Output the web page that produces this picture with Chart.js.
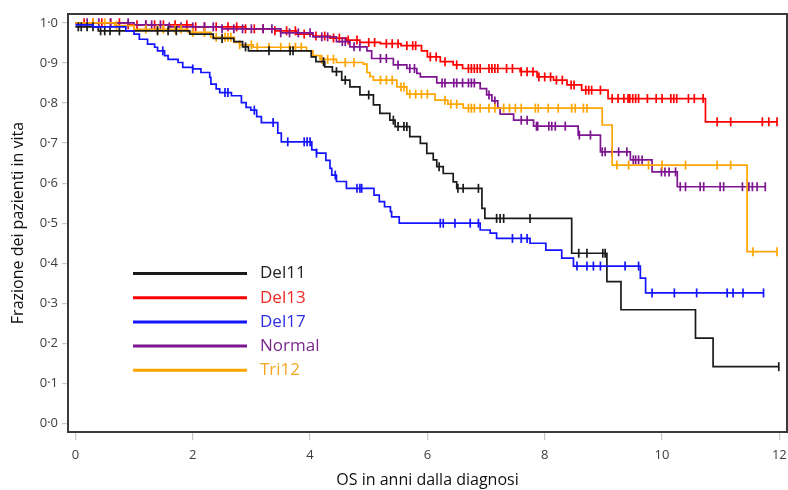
<!DOCTYPE html>
<html>
<head>
<meta charset="utf-8">
<script src="https://cdn.jsdelivr.net/npm/chart.js@4/dist/chart.umd.min.js"></script>
<style>
html,body{margin:0;padding:0;background:#fff;}
#wrap{width:788px;height:490px;position:relative;}
</style>
</head>
<body>
<div id="wrap"><canvas id="c"></canvas></div>
<script>
// ---- Data ----
const seriesNames = ["Del11", "Del13", "Del17", "Normal", "Tri12"];
const seriesColors = ["#1a1a1a", "#ff0000", "#1414ff", "#7d1490", "#ffa500"];
const legendTextColors = ["#222222", "#f02828", "#2d2de6", "#7a2a8c", "#f5a623"];

const del11Time = [0, 0.39, 1.95, 2.35, 2.7, 2.85, 2.95, 4.02, 4.1, 4.25, 4.38, 4.54, 4.68, 4.85, 5.08, 5.19, 5.36, 5.45, 5.70, 5.88, 5.99, 6.10, 6.16, 6.27, 6.44, 6.50, 6.93, 6.98, 8.46, 9.06, 9.30, 10.57, 10.87, 11.99];
const del11Surv = [0.99, 0.98, 0.972, 0.961, 0.953, 0.94, 0.93, 0.915, 0.903, 0.89, 0.878, 0.857, 0.84, 0.82, 0.795, 0.774, 0.757, 0.741, 0.716, 0.699, 0.674, 0.658, 0.641, 0.624, 0.603, 0.587, 0.537, 0.512, 0.425, 0.354, 0.284, 0.213, 0.142, 0.142];
const del11Censor = [0.05, 0.1, 0.2, 0.3, 0.43, 0.5, 0.59, 0.75, 1.4, 1.58, 1.72, 2.5, 2.9, 3.3, 3.66, 3.71, 4.23, 4.45, 4.6, 5.0, 5.42, 5.5, 5.6, 5.65, 6.2, 6.52, 6.61, 6.87, 7.18, 7.24, 7.3, 7.75, 8.58, 8.72, 8.99, 9.03, 11.99];

const del13Time = [0, 0.9, 2.0, 2.9, 3.4, 3.77, 4.05, 4.34, 4.62, 4.85, 5.2, 5.55, 5.9, 6.0, 6.22, 6.44, 6.6, 7.58, 7.87, 8.15, 8.38, 8.63, 9.08, 10.74, 11.96];
const del13Surv = [1.0, 0.995, 0.99, 0.985, 0.98, 0.972, 0.967, 0.962, 0.957, 0.951, 0.948, 0.943, 0.93, 0.915, 0.903, 0.895, 0.886, 0.878, 0.865, 0.857, 0.845, 0.832, 0.811, 0.753, 0.753];
const del13Censor = [0.15, 0.3, 0.45, 0.6, 0.75, 0.9, 1.05, 1.2, 1.35, 1.5, 1.7, 1.9, 2.05, 2.2, 2.4, 2.6, 2.75, 2.9, 3.05, 3.2, 3.4, 3.6, 3.75, 3.9, 4.1, 4.25, 4.4, 4.5, 4.65, 4.8, 5.0, 5.1, 5.3, 5.4, 5.5, 5.65, 5.75, 5.8, 6.05, 6.15, 6.3, 6.5, 6.7, 6.75, 6.8, 6.85, 6.9, 7.05, 7.1, 7.15, 7.2, 7.35, 7.45, 7.6, 7.7, 7.8, 7.9, 8.0, 8.1, 8.2, 8.3, 8.45, 8.5, 8.7, 8.75, 8.8, 8.95, 9.15, 9.25, 9.35, 9.42, 9.45, 9.5, 9.55, 9.6, 9.75, 9.9, 10.0, 10.15, 10.2, 10.25, 10.45, 10.55, 10.7, 10.94, 11.17, 11.71, 11.82, 11.96];

const del17Time = [0, 0.3, 0.86, 1.0, 1.09, 1.23, 1.35, 1.4, 1.52, 1.58, 1.75, 1.83, 2.0, 2.14, 2.29, 2.31, 2.4, 2.46, 2.66, 2.83, 2.91, 2.99, 3.09, 3.17, 3.45, 3.51, 4.03, 4.11, 4.27, 4.34, 4.37, 4.45, 4.62, 5.09, 5.18, 5.27, 5.37, 5.39, 5.52, 6.9, 7.07, 7.18, 7.75, 8.02, 8.29, 8.49, 9.63, 9.72, 11.73];
const del17Surv = [0.995, 0.99, 0.98, 0.972, 0.959, 0.947, 0.939, 0.93, 0.918, 0.909, 0.901, 0.889, 0.885, 0.876, 0.864, 0.847, 0.835, 0.826, 0.818, 0.801, 0.789, 0.782, 0.766, 0.751, 0.725, 0.703, 0.683, 0.675, 0.657, 0.637, 0.62, 0.604, 0.587, 0.570, 0.554, 0.541, 0.529, 0.516, 0.50, 0.483, 0.475, 0.462, 0.45, 0.433, 0.413, 0.393, 0.363, 0.326, 0.326];
const del17Censor = [1.49, 2.0, 2.55, 2.6, 3.05, 3.37, 3.62, 3.9, 3.95, 4.0, 4.11, 4.43, 4.8, 4.85, 4.88, 6.22, 6.27, 6.47, 6.73, 6.87, 7.45, 7.6, 7.7, 8.55, 8.72, 8.83, 8.95, 9.37, 9.6, 9.83, 10.21, 10.59, 11.11, 11.21, 11.38, 11.73];

const normalTime = [0, 1.0, 1.6, 2.5, 3.5, 4.05, 4.45, 4.68, 4.97, 5.05, 5.42, 5.65, 5.82, 5.88, 6.16, 6.9, 7.01, 7.1, 7.2, 7.24, 7.47, 7.81, 8.57, 8.95, 9.46, 9.83, 10.26, 11.76];
const normalSurv = [1.0, 0.995, 0.99, 0.985, 0.975, 0.965, 0.953, 0.94, 0.93, 0.911, 0.895, 0.886, 0.874, 0.865, 0.85, 0.836, 0.82, 0.805, 0.787, 0.772, 0.757, 0.742, 0.72, 0.678, 0.658, 0.628, 0.591, 0.591];
const normalCensor = [0.2, 0.4, 0.6, 0.9, 1.2, 1.3, 1.45, 1.6, 1.8, 2.0, 2.2, 2.35, 2.5, 2.7, 2.85, 3.0, 3.2, 3.35, 3.5, 3.65, 3.8, 4.0, 4.2, 4.3, 4.55, 4.6, 4.75, 4.85, 5.2, 5.3, 5.5, 5.7, 5.78, 6.25, 6.3, 6.45, 6.5, 6.6, 6.7, 6.75, 6.8, 7.05, 7.15, 7.6, 7.7, 7.86, 7.88, 8.07, 8.12, 8.18, 8.35, 8.59, 8.78, 8.98, 9.03, 9.15, 9.26, 9.40, 9.51, 9.55, 9.6, 9.66, 9.99, 10.05, 10.12, 10.23, 10.31, 10.40, 10.65, 10.71, 10.99, 11.05, 11.37, 11.48, 11.54, 11.62, 11.76];

const tri12Time = [0, 0.67, 1.0, 1.92, 2.31, 2.71, 2.8, 3.03, 3.94, 4.05, 4.17, 4.45, 4.91, 4.97, 5.02, 5.08, 5.48, 5.65, 6.13, 6.35, 6.61, 8.98, 9.15, 11.45, 11.96];
const tri12Surv = [1.0, 0.993, 0.984, 0.976, 0.964, 0.951, 0.945, 0.939, 0.93, 0.918, 0.909, 0.901, 0.897, 0.876, 0.866, 0.857, 0.84, 0.822, 0.807, 0.797, 0.787, 0.745, 0.645, 0.429, 0.429];
const tri12Censor = [0.3, 0.5, 0.7, 1.0, 1.2, 1.4, 1.5, 1.7, 1.8, 2.0, 2.2, 2.4, 2.55, 2.6, 2.65, 2.8, 3.0, 3.1, 3.3, 3.5, 3.65, 3.75, 3.85, 4.2, 4.3, 4.4, 4.6, 4.75, 5.2, 5.3, 5.4, 5.55, 5.6, 5.7, 5.8, 5.9, 6.0, 6.3, 6.4, 6.5, 6.7, 6.75, 6.8, 6.9, 7.05, 7.15, 7.3, 7.4, 7.5, 7.6, 7.84, 7.89, 8.06, 8.23, 8.46, 8.52, 8.66, 8.72, 9.23, 9.43, 9.77, 10.0, 10.4, 10.94, 11.17, 11.55, 11.96];

const xTickValues = [0, 2, 4, 6, 8, 10, 12];
const xTickLabels = ["0", "2", "4", "6", "8", "10", "12"];
const yTickValues = [0, 0.1, 0.2, 0.3, 0.4, 0.5, 0.6, 0.7, 0.8, 0.9, 1.0];
const yTickLabels = ["0·0", "0·1", "0·2", "0·3", "0·4", "0·5", "0·6", "0·7", "0·8", "0·9", "1·0"];
const xTitle = "OS in anni dalla diagnosi";
const yTitle = "Frazione dei pazienti in vita";

// ---- Build datasets ----
const seriesTimes = [del11Time, del13Time, del17Time, normalTime, tri12Time];
const seriesSurvs = [del11Surv, del13Surv, del17Surv, normalSurv, tri12Surv];
const seriesCensors = [del11Censor, del13Censor, del17Censor, normalCensor, tri12Censor];

function survAt(times, survs, t) {
  let v = survs[0];
  for (let i = 0; i < times.length; i++) { if (times[i] <= t) v = survs[i]; else break; }
  return v;
}

const drawOrder = [2, 0, 4, 3, 1]; // index into series; first = on top
const datasets = [];
drawOrder.forEach((si, k) => {
  datasets.push({
    type: 'line',
    label: seriesNames[si],
    data: seriesTimes[si].map((t, i) => ({x: t, y: seriesSurvs[si][i]})),
    borderColor: seriesColors[si],
    borderWidth: 1.7,
    stepped: true,
    pointRadius: 0,
    fill: false,
    order: k
  });
  datasets.push({
    type: 'scatter',
    label: seriesNames[si] + ' censored',
    data: seriesCensors[si].map(t => ({x: t, y: survAt(seriesTimes[si], seriesSurvs[si], t)})),
    pointStyle: 'line',
    rotation: 90,
    pointRadius: 4.5,
    pointHoverRadius: 4.5,
    pointBorderWidth: 1.7,
    borderColor: seriesColors[si],
    backgroundColor: seriesColors[si],
    showLine: false,
    order: k
  });
});

const framePlugin = {
  id: 'frame',
  afterDatasetsDraw(chart) {
    const a = chart.chartArea, ctx = chart.ctx;
    ctx.save();
    ctx.strokeStyle = '#3a3a3a';
    ctx.lineWidth = 2;
    ctx.strokeRect(a.left, a.top, a.right - a.left, a.bottom - a.top);
    ctx.restore();
  }
};

const legendPlugin = {
  id: 'kmLegend',
  afterDraw(chart) {
    const a = chart.chartArea, ctx = chart.ctx;
    ctx.save();
    const x0 = a.left + 65, x1 = a.left + 179, tx = a.left + 192;
    seriesNames.forEach((n, i) => {
      const y = a.top + 259.5 + i * 24.2;
      ctx.strokeStyle = seriesColors[i];
      ctx.lineWidth = 3;
      ctx.beginPath(); ctx.moveTo(x0, y); ctx.lineTo(x1, y); ctx.stroke();
      ctx.fillStyle = legendTextColors[i];
      ctx.font = '17px "Open Sans"';
      ctx.textBaseline = 'middle';
      ctx.textAlign = 'left';
      ctx.fillText(n, tx, y);
    });
    ctx.restore();
  }
};

new Chart(document.getElementById('c'), {
  data: { datasets },
  plugins: [framePlugin, legendPlugin],
  options: {
    responsive: true,
    maintainAspectRatio: false,
    animation: false,
    layout: { autoPadding: false, padding: { top: 14, right: 1, left: 0, bottom: 0 } },
    plugins: { legend: { display: false }, tooltip: { enabled: false } },
    scales: {
      x: {
        type: 'linear',
        min: -0.126,
        max: 12.13,
        afterBuildTicks: s => { s.ticks = xTickValues.map(v => ({value: v})); },
        afterFit: s => { s.height = 58; s.paddingLeft = 0; s.paddingRight = 0; },
        ticks: {
          callback: (v) => { const i = xTickValues.indexOf(v); return i >= 0 ? xTickLabels[i] : ''; },
          font: { family: '"Open Sans"', size: 13 },
          color: '#3c3c3c',
          padding: 7,
          maxRotation: 0
        },
        grid: { drawOnChartArea: false, tickLength: 8, color: '#c8c8c8', lineWidth: 1.2 },
        border: { display: true, color: '#3a3a3a', width: 2 },
        title: { display: true, text: xTitle, font: { family: '"Open Sans"', size: 16 }, color: '#111', padding: { top: 0, bottom: 0 } }
      },
      y: {
        type: 'linear',
        min: -0.021,
        max: 1.022,
        afterBuildTicks: s => { s.ticks = yTickValues.map(v => ({value: v})); },
        afterFit: s => { s.width = 68; s.paddingTop = 0; s.paddingBottom = 0; },
        ticks: {
          callback: (v) => { const i = yTickValues.findIndex(t => Math.abs(t - v) < 1e-9); return i >= 0 ? yTickLabels[i] : ''; },
          font: { family: '"Open Sans"', size: 13 },
          color: '#3c3c3c',
          padding: 4
        },
        grid: { drawOnChartArea: false, tickLength: 6, color: '#c8c8c8', lineWidth: 1.2 },
        border: { display: true, color: '#3a3a3a', width: 2 },
        title: { display: true, text: yTitle, font: { family: '"Open Sans"', size: 16 }, color: '#111', padding: { top: 9, bottom: 0 } }
      }
    }
  }
});
</script>
</body>
</html>
